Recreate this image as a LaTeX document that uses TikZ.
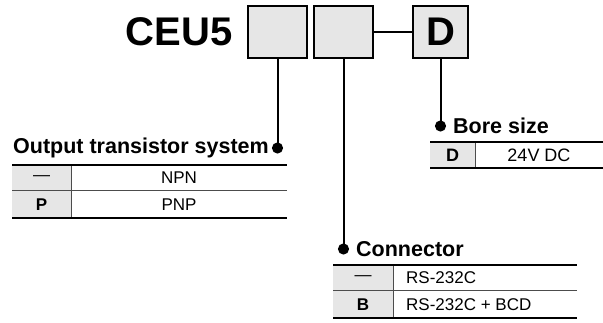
\documentclass[tikz,border=0pt]{standalone}
\usepackage{fontspec}
\setmainfont{Liberation Sans}
\usetikzlibrary{positioning}
\definecolor{cellgray}{RGB}{230,230,230}
\tikzset{
  codebox/.style={draw, line width=2pt, fill=cellgray, minimum height=52pt, inner sep=0pt},
  grouptitle/.style={font=\fontsize{21.5}{22}\selectfont\bfseries, inner sep=0pt},
  cell/.style={font=\fontsize{17}{17}\selectfont, inner sep=0pt},
  stem/.style={line width=2pt},
  joindot/.style={shape=circle, draw=black, fill=black, minimum size=9pt, inner sep=0pt, outer sep=0pt},
  rule/.style={line width=2pt},
  thinrule/.style={line width=1pt, color=gray!60!black}
}

\begin{document}
\begin{tikzpicture}[x=1pt, y=-1pt]
\useasboundingbox (0,0) rectangle (603,323);

% part number boxes
\node[font=\fontsize{40}{40}\selectfont\bfseries, inner sep=0pt] (ceu) at (179,32) {CEU5};
\node[codebox, minimum width=59pt] (outbox) at (277.5,32) {};
\node[codebox, minimum width=59pt] (conbox) at (343.5,32) {};
\node[codebox, minimum width=55pt, font=\fontsize{40}{40}\selectfont\bfseries] (borebox) at (440.5,32) {D};
\draw[line width=2pt](conbox.east) -- (borebox.west);

% dots and stems
\draw[stem](outbox.south) -- (277.5,148) node[joindot] (outdot) {};
\draw[stem](conbox.south) -- (343.5,249) node[joindot] (condot) {};
\draw[stem](borebox.south) -- (440.5,126) node[joindot] (boredot) {};

% titles
\node[grouptitle, left=4pt of outdot] (outtitle) {Output transistor system};
\node[grouptitle, right=8pt of boredot] (boretitle) {Bore size};
\node[grouptitle, right=8pt of condot] (contitle) {Connector};

% output transistor system table
\fill[cellgray](12,165) rectangle (71,218);
\draw[thinrule](12,191) -- (287,191);
\draw[thinrule](71,165) -- (71,218);
\draw[rule](12,165) -- (287,165);
\draw[rule](12,218) -- (287,218);
\node[cell] (outdash) at (41.5,178) {—};
\node[cell] (outnpn) at (179,178) {NPN};
\node[cell, font=\fontsize{17}{17}\selectfont\bfseries] (outp) at (41.5,204.5) {P};
\node[cell] (outpnp) at (179,204.5) {PNP};

% bore size table
\fill[cellgray](430,142) rectangle (475,168);
\draw[thinrule](475,142) -- (475,168);
\draw[rule](430,142) -- (603,142);
\draw[rule](430,168) -- (603,168);
\node[cell, font=\fontsize{18}{18}\selectfont\bfseries] (bored) at (452.5,155) {D};
\node[cell, font=\fontsize{18}{18}\selectfont] (boredc) at (539,155) {24V DC};

% connector table
\fill[cellgray](333,265) rectangle (393,318);
\draw[thinrule](333,291) -- (577,291);
\draw[thinrule](393,265) -- (393,318);
\draw[rule](333,265) -- (577,265);
\draw[rule](333,318) -- (577,318);
\node[cell] (condash) at (363,278) {—};
\node[cell, anchor=west] (conrs) at (406,278) {RS-232C};
\node[cell, font=\fontsize{17}{17}\selectfont\bfseries] (conb) at (363,304.5) {B};
\node[cell, anchor=west] (conbcd) at (406,304.5) {RS-232C + BCD};
\end{tikzpicture}
\end{document}
